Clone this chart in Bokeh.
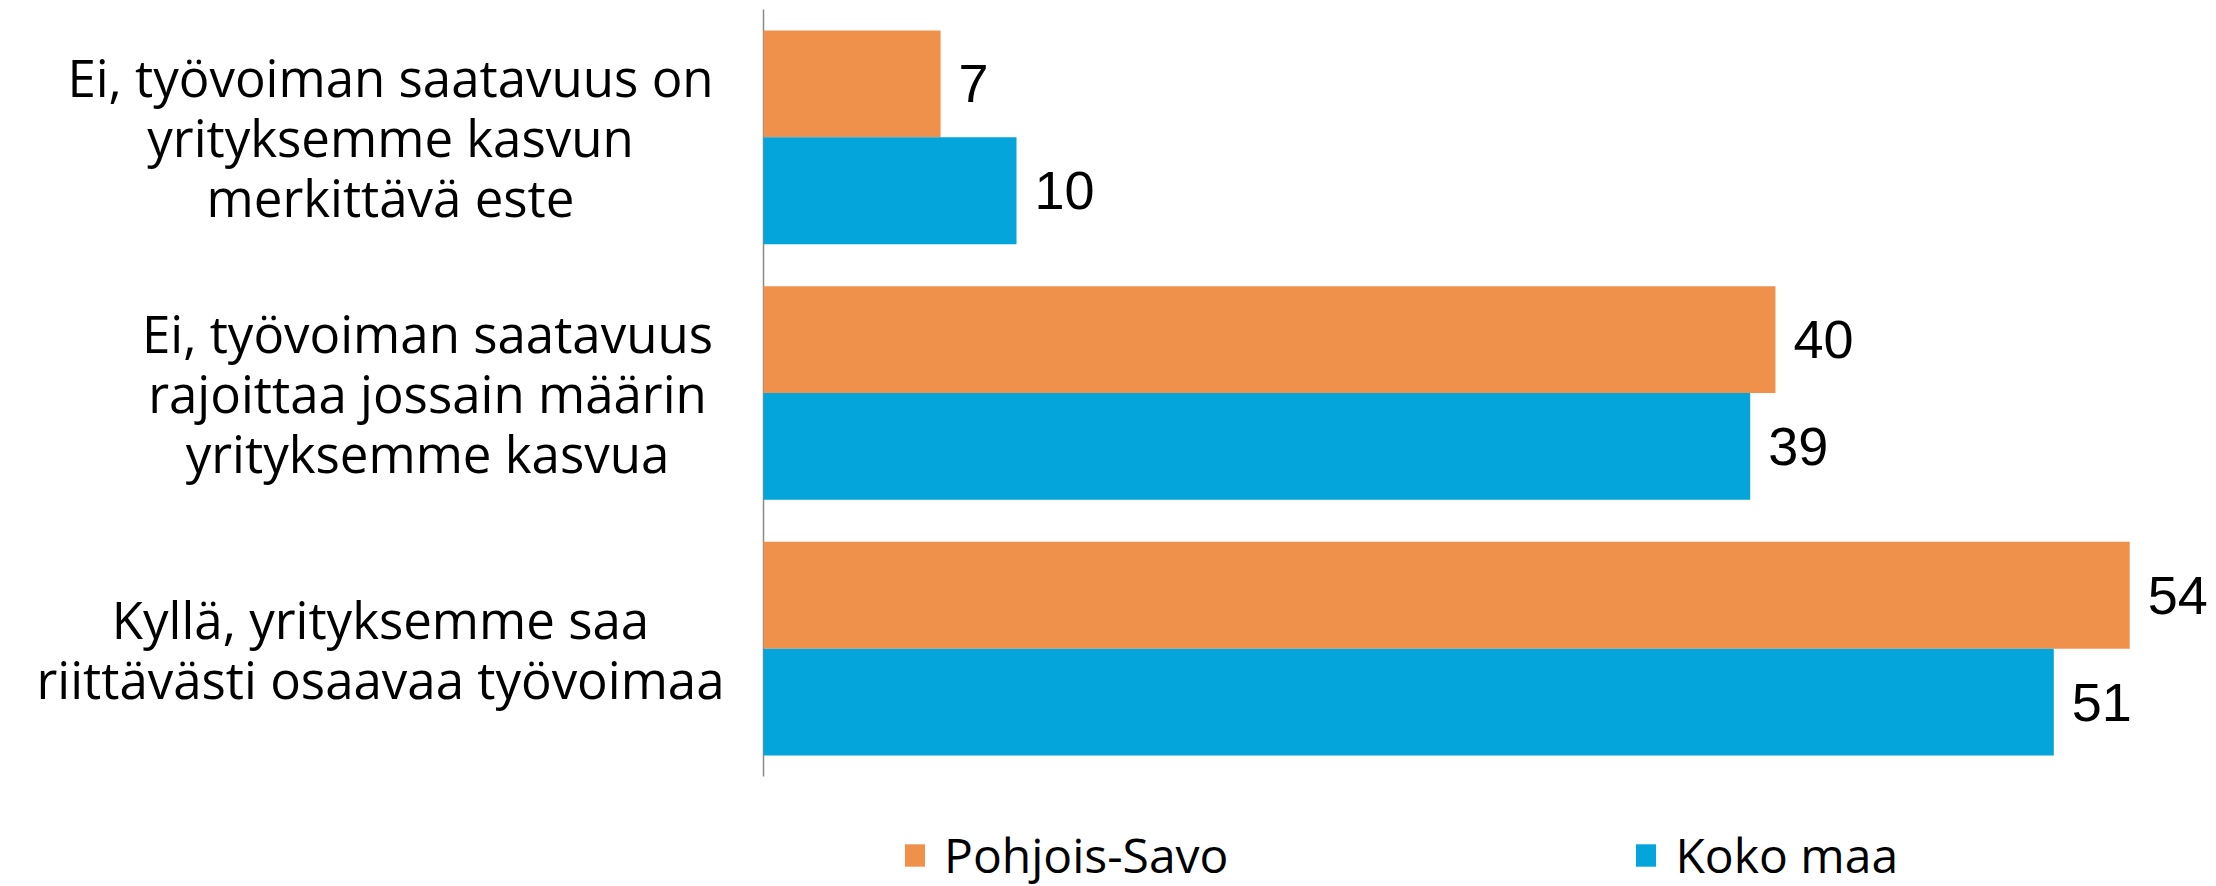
import numpy as np
from bokeh.plotting import figure
from bokeh.models import Range1d, ColumnDataSource, Legend, LegendItem
from bokeh.core.properties import value
from bokeh.embed import file_html
from bokeh.resources import INLINE

# ---- data ----
categories = [
    "Ei, työvoiman saatavuus on\nyrityksemme kasvun\nmerkittävä este",
    "Ei, työvoiman saatavuus\nrajoittaa jossain määrin\nyrityksemme kasvua",
    "Kyllä, yrityksemme saa\nriittävästi osaavaa työvoimaa",
]
series_names = ["Pohjois-Savo", "Koko maa"]
pohjois_savo = [7, 40, 54]
koko_maa = [10, 39, 51]

# ---- style / layout (pixels) ----
ORANGE = "#F0914B"
BLUE = "#03A5DA"
AXIS_GRAY = "#8a8a8a"
W, H = 2216, 886
AXIS_X = 763          # pixel position of the value axis
PLOT_TOP = 9          # top of category band
PLOT_BOTTOM = 776     # bottom of category band
PX_PER_UNIT = 25.3
label_offsets = [373, 336, 383]   # category text centre, px left of axis
LINE_STEP = 60                      # px between category text lines

n = len(categories)
pitch = (PLOT_BOTTOM - PLOT_TOP) / n
x_range = Range1d(-AXIS_X / PX_PER_UNIT, (W - AXIS_X) / PX_PER_UNIT)
y_range = Range1d(n - (H - PLOT_TOP) / pitch, n + PLOT_TOP / pitch)

ypos = np.arange(n)[::-1] + 0.5
bar_h = 0.418

p = figure(width=W, height=H, x_range=x_range, y_range=y_range,
           output_backend="svg", toolbar_location=None,
           min_border=0, min_border_left=0, min_border_right=0,
           min_border_top=0, min_border_bottom=0)
p.outline_line_color = None
p.axis.visible = False
p.grid.visible = False
p.background_fill_color = "white"

# value axis line spanning the category band
p.segment(x0=[0], y0=[0], x1=[0], y1=[n], line_color=AXIS_GRAY, line_width=1.5)

src_o = ColumnDataSource(dict(y=ypos + bar_h / 2, v=pohjois_savo,
                              t=[str(v) for v in pohjois_savo]))
src_b = ColumnDataSource(dict(y=ypos - bar_h / 2, v=koko_maa,
                              t=[str(v) for v in koko_maa]))

r1 = p.hbar(y="y", left=0, right="v", height=bar_h, source=src_o,
            fill_color=ORANGE, line_color=None)
r2 = p.hbar(y="y", left=0, right="v", height=bar_h, source=src_b,
            fill_color=BLUE, line_color=None)

for src in (src_o, src_b):
    p.text(x="v", y="y", text="t", source=src, x_offset=18,
           text_baseline="middle", text_align="left",
           text_font=value("Liberation Sans"), text_font_size=value("54px"),
           text_color="black")

# category labels, one text per line, centred
lx, ly, lt, loff_x, loff_y = [], [], [], [], []
for i, cat in enumerate(categories):
    lines = cat.split("\n")
    m = len(lines)
    for j, line in enumerate(lines):
        lx.append(0)
        ly.append(ypos[i])
        lt.append(line)
        loff_x.append(-label_offsets[i])
        loff_y.append((j - (m - 1) / 2) * LINE_STEP)
src_c = ColumnDataSource(dict(x=lx, y=ly, t=lt, ox=loff_x, oy=loff_y))
p.text(x="x", y="y", text="t", x_offset="ox", y_offset="oy", source=src_c,
       text_align="center", text_baseline="middle",
       text_font=value("Open Sans"), text_font_size=value("51px"),
       text_color="black")

legend = Legend(items=[LegendItem(label=series_names[0], renderers=[r1]),
                       LegendItem(label=series_names[1], renderers=[r2])],
                orientation="horizontal", location=(902, -1),
                glyph_width=25, glyph_height=28, label_standoff=17,
                spacing=405, padding=0, margin=0,
                border_line_color=None, background_fill_alpha=0,
                label_text_font="Open Sans", label_text_font_size="48px",
                label_text_color="black")
p.add_layout(legend)

open("out.html", "w").write(file_html(p, INLINE))
